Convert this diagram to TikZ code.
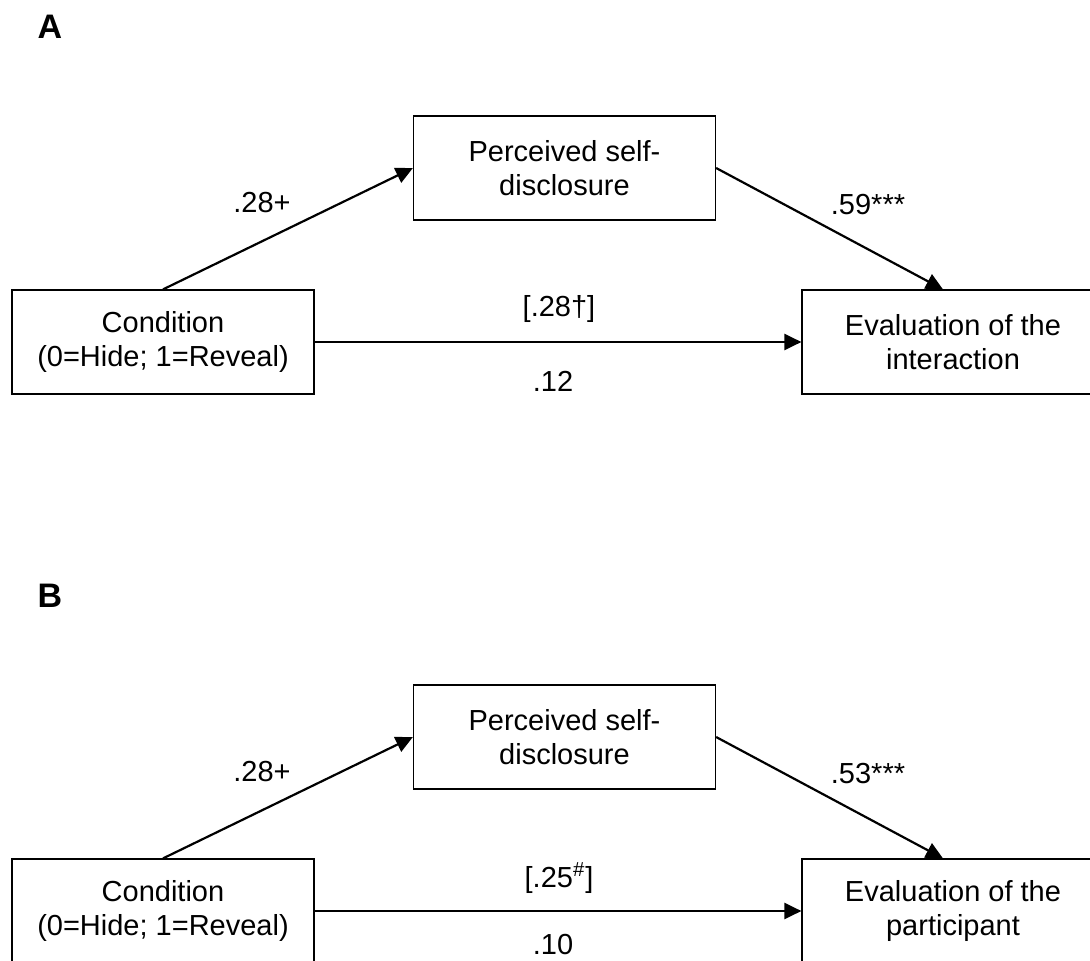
\documentclass[tikz,border=0pt]{standalone}
\usepackage{fontspec}
\setmainfont{Liberation Sans}
\usetikzlibrary{arrows.meta}
\usetikzlibrary{positioning}

\begin{document}
\begin{tikzpicture}[x=0.5pt,y=-0.5pt,
  box/.style={draw,line width=0.6pt,minimum width=151pt,minimum height=52pt,align=center,inner sep=0pt,font=\fontsize{14.5}{17}\selectfont},
  lbl/.style={inner sep=0pt,font=\fontsize{14.5}{17}\selectfont},
  panel/.style={inner sep=0pt,font=\fontsize{17}{20}\selectfont\bfseries},
  arr/.style={-{Triangle[length=8.5pt,width=8pt]},line width=1.1pt}]
  \useasboundingbox (0,0) rectangle (1090,961);
  \clip (0,0) rectangle (1090,961);

  % panel A
  \node[panel] (pA) at (50,27) {A};
  \node[box] (condA) at (163,342) {Condition\\(0=Hide; 1=Reveal)};
  \node[box] (pdA) at (564.5,168) {Perceived self-\\disclosure};
  \node[box,right of=condA,node distance=395pt] (evA) {Evaluation of the\\interaction};
  \draw[arr] (condA.north) -- (pdA.west);
  \draw[arr] (pdA.east) -- ([xshift=-5pt]evA.north);
  \draw[arr] (condA.east) -- (evA.west);
  \node[lbl] (aA) at (262,203) {.28+};
  \node[lbl] (bA) at (868,205) {.59***};
  \node[lbl] (cA) at (559,309) {[.28†]};
  \node[lbl] (dA) at (553,381) {.12};

  % panel B
  \node[panel] (pB) at (50,596) {B};
  \node[box] (condB) at (163,911) {Condition\\(0=Hide; 1=Reveal)};
  \node[box] (pdB) at (564.5,737) {Perceived self-\\disclosure};
  \node[box,right of=condB,node distance=395pt] (evB) {Evaluation of the\\participant};
  \draw[arr] (condB.north) -- (pdB.west);
  \draw[arr] (pdB.east) -- ([xshift=-5pt]evB.north);
  \draw[arr] (condB.east) -- (evB.west);
  \node[lbl] (aB) at (262,772) {.28+};
  \node[lbl] (bB) at (868,774) {.53***};
  \node[lbl] (cB) at (559,878) {[.25\textsuperscript{\#}]};
  \node[lbl] (dB) at (553,945) {.10};
\end{tikzpicture}
\end{document}
